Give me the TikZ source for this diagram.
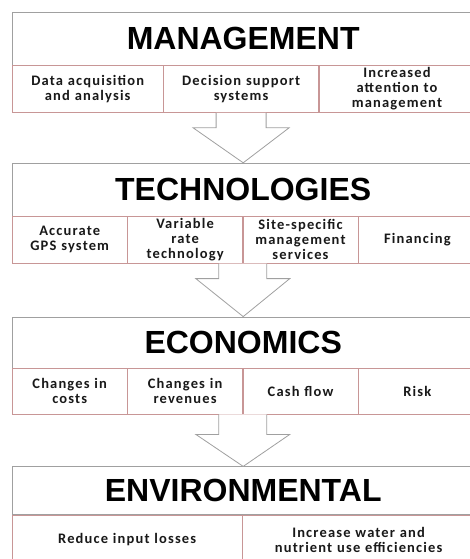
\documentclass[tikz,border=0pt]{standalone}
\usepackage{fontspec}
\setmainfont{Liberation Sans}
\newfontfamily\cellfont[LetterSpace=8]{Carlito}

\definecolor{cellline}{RGB}{200,150,150}
\definecolor{boxline}{RGB}{160,160,160}

\tikzset{head/.style={draw=boxline, fill=white, anchor=north west, inner sep=0pt, minimum width=462pt, font=\fontsize{32}{36}\selectfont\bfseries}}
\tikzset{cell/.style={draw=cellline, fill=white, anchor=north west, inner xsep=2pt, inner ysep=0pt, align=center, text=black!90, font=\cellfont\bfseries\fontsize{14.5}{15}\selectfont}}
\tikzset{bigarrow/.style={draw=boxline, fill=white, line width=0.8pt, line join=miter}}

\begin{document}
\begin{tikzpicture}[x=1pt, y=1pt]
    \useasboundingbox (0,0) rectangle (469,-559);

    % management
    \node[head, minimum height=53pt] (mgmt) at (12,-12) {MANAGEMENT};
    \node[cell, text width=147pt, minimum height=47pt] (data) at (mgmt.south west) {Data acquisition\\and analysis};
    \node[cell, text width=151pt, minimum height=47pt] (dss) at (data.north east) {Decision support\\systems};
    \node[cell, text width=152pt, minimum height=47pt] (attn) at (dss.north east) {Increased\\attention to\\management};

    % technologies
    \node[head, minimum height=53pt] (tech) at ([yshift=-50pt]data.south west) {TECHNOLOGIES};
    \node[cell, text width=111pt, minimum height=47pt] (gps) at (tech.south west) {Accurate\\GPS system};
    \node[cell, text width=111pt, minimum height=47pt] (vrt) at (gps.north east) {Variable\\rate\\technology};
    \node[cell, text width=111pt, minimum height=47pt] (ssm) at (vrt.north east) {Site-specific\\management\\services};
    \node[cell, text width=114pt, minimum height=47pt] (fin) at (ssm.north east) {Financing};

    % economics
    \node[head, minimum height=51pt] (econ) at ([yshift=-53pt]gps.south west) {ECONOMICS};
    \node[cell, text width=111pt, minimum height=46pt] (costs) at (econ.south west) {Changes in\\costs};
    \node[cell, text width=111pt, minimum height=46pt] (rev) at (costs.north east) {Changes in\\revenues};
    \node[cell, text width=111pt, minimum height=46pt] (cash) at (rev.north east) {Cash flow};
    \node[cell, text width=114pt, minimum height=46pt] (risk) at (cash.north east) {Risk};

    % environmental
    \node[head, minimum height=48pt] (env) at ([yshift=-52pt]costs.south west) {ENVIRONMENTAL};
    \node[cell, text width=226pt, minimum height=50pt] (loss) at (env.south west) {Reduce input losses};
    \node[cell, text width=228pt, minimum height=50pt] (eff) at (loss.north east) {Increase water and\\nutrient use efficiencies};

    % arrows between the blocks
    \draw[bigarrow] ([xshift=-25pt]dss.south) -- ++(0,-15) -- ++(-23,0) -- (tech.north) -- ([xshift=48pt, yshift=-15pt]dss.south) -- ([xshift=25pt, yshift=-15pt]dss.south) -- ([xshift=25pt]dss.south);

    \draw[bigarrow] ([xshift=-24pt]vrt.south east) -- ++(0,-15) -- ++(-23,0) -- (econ.north) -- ([xshift=47pt, yshift=-15pt]vrt.south east) -- ([xshift=24pt, yshift=-15pt]vrt.south east) -- ([xshift=24pt]vrt.south east);

    \draw[bigarrow] ([xshift=-24pt]rev.south east) -- ++(0,-20) -- ++(-23,0) -- (env.north) -- ([xshift=47pt, yshift=-20pt]rev.south east) -- ([xshift=24pt, yshift=-20pt]rev.south east) -- ([xshift=24pt]rev.south east);

\end{tikzpicture}
\end{document}
